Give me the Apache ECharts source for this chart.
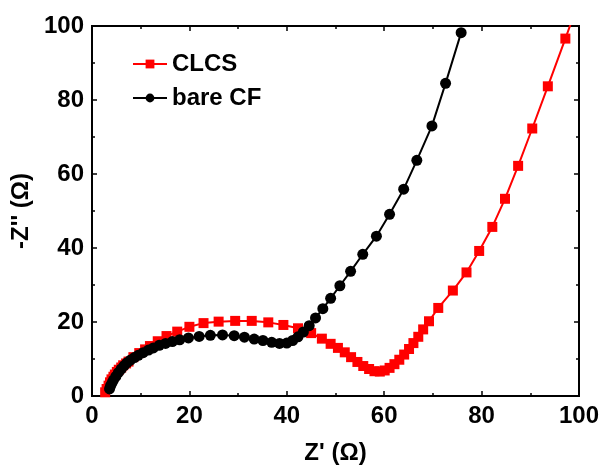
<!DOCTYPE html>
<html>
<head>
<meta charset="utf-8">
<script src="https://cdn.jsdelivr.net/npm/echarts@6/dist/echarts.min.js"></script>
<style>
  html, body { margin: 0; padding: 0; background: #fff; }
  #chart { width: 608px; height: 471px; }
</style>
</head>
<body>
<div id="chart"></div>
<script>
// Nyquist plot: Z' vs -Z'' (Ω)
const xTicks = [0, 20, 40, 60, 80, 100];
const yTicks = [0, 20, 40, 60, 80, 100];

const clcsZre = [2.7, 3.0, 3.4, 3.7, 4.0, 4.4, 4.7, 5.1, 5.5, 6.0, 6.4, 7.0, 7.5, 8.5, 9.7, 10.9, 11.9, 13.5, 15.3, 17.5, 20.0, 22.9, 26.0, 29.4, 32.8, 36.2, 39.3, 42.3, 45.0, 47.2, 49.0, 50.5, 51.9, 53.2, 54.5, 55.7, 56.9, 58.0, 59.1, 60.1, 61.1, 62.1, 63.1, 64.1, 65.1, 66.0, 67.0, 68.0, 69.2, 71.1, 74.1, 76.9, 79.5, 82.2, 84.8, 87.5, 90.4, 93.6, 97.2, 100.9];
const clcsZim = [1.0, 1.9, 2.8, 3.7, 4.5, 5.2, 5.8, 6.5, 7.1, 7.7, 8.3, 8.8, 9.3, 10.5, 11.6, 12.6, 13.5, 14.8, 16.2, 17.4, 18.7, 19.7, 20.1, 20.3, 20.3, 19.9, 19.2, 18.3, 17.0, 15.5, 14.1, 13.0, 11.8, 10.5, 9.2, 8.1, 7.3, 6.7, 6.6, 6.9, 7.6, 8.6, 9.8, 11.2, 12.7, 14.3, 16.0, 18.0, 20.2, 23.8, 28.5, 33.4, 39.2, 45.7, 53.3, 62.2, 72.3, 83.7, 96.6, 110.0];

const bareZre = [3.6, 3.8, 4.1, 4.4, 4.9, 5.4, 6.0, 6.6, 7.2, 7.9, 8.7, 9.5, 10.5, 11.6, 12.6, 13.8, 15.1, 16.5, 18.0, 19.8, 22.0, 24.3, 26.8, 29.2, 31.3, 33.3, 35.1, 36.9, 38.5, 40.0, 41.2, 42.3, 43.4, 44.6, 45.9, 47.4, 49.0, 50.9, 53.1, 55.6, 58.4, 61.1, 64.0, 66.7, 69.8, 72.6, 75.8];
const bareZim = [1.9, 2.7, 3.5, 4.3, 5.3, 6.3, 7.3, 8.2, 9.0, 9.7, 10.4, 11.0, 11.7, 12.4, 13.0, 13.7, 14.2, 14.7, 15.2, 15.7, 16.1, 16.4, 16.5, 16.3, 15.9, 15.4, 15.0, 14.5, 14.2, 14.3, 15.0, 16.0, 17.3, 19.0, 21.1, 23.6, 26.4, 29.8, 33.7, 38.3, 43.2, 49.1, 55.9, 63.7, 73.0, 84.5, 98.2];

const pair = (xs, ys) => xs.map((x, i) => [x, ys[i]]);

const FONT = 'Arial, "Liberation Sans", sans-serif';

function valueAxis(extra) {
  return Object.assign({
    type: 'value', min: 0, max: 100, interval: 20,
    axisLine: { show: true, onZero: false, lineStyle: { color: '#000', width: 2 } },
    axisTick: { show: true, inside: true, length: 5, lineStyle: { color: '#000', width: 1.5 } },
    minorTick: { show: true, splitNumber: 2, length: 3, lineStyle: { color: '#000', width: 1.5 } },
    splitLine: { show: false },
    minorSplitLine: { show: false }
  }, extra);
}

const chart = echarts.init(document.getElementById('chart'), null, { renderer: 'canvas' });
chart.setOption({
  animation: false,
  backgroundColor: '#fff',
  grid: {
    left: 92, right: 29, top: 26, bottom: 75, containLabel: false,
    show: true, borderColor: '#000', borderWidth: 2, backgroundColor: 'transparent'
  },
  legend: {
    orient: 'vertical', left: 127, top: 47,
    itemWidth: 34, itemHeight: 11, itemGap: 10,
    textStyle: { fontFamily: FONT, fontWeight: 'bold', fontSize: 24, color: '#000' },
    data: ['CLCS', 'bare CF']
  },
  xAxis: [
    valueAxis({
      position: 'bottom',
      name: "Z' (Ω)", nameLocation: 'middle', nameGap: 45,
      nameTextStyle: { fontFamily: FONT, fontWeight: 'bold', fontSize: 24, color: '#000' },
      axisLabel: {
        fontFamily: FONT, fontWeight: 'bold', fontSize: 24, color: '#000', margin: 8,
        formatter: v => (xTicks.includes(v) ? String(v) : '')
      }
    }),
    valueAxis({ position: 'top', axisLabel: { show: false } })
  ],
  yAxis: [
    valueAxis({
      position: 'left',
      name: "-Z'' (Ω)", nameLocation: 'middle', nameGap: 58,
      nameTextStyle: { fontFamily: FONT, fontWeight: 'bold', fontSize: 24, color: '#000' },
      axisLabel: {
        fontFamily: FONT, fontWeight: 'bold', fontSize: 24, color: '#000', margin: 8,
        formatter: v => (yTicks.includes(v) ? String(v) : '')
      }
    }),
    valueAxis({ position: 'right', axisLabel: { show: false } })
  ],
  series: [
    {
      name: 'CLCS', type: 'line', data: pair(clcsZre, clcsZim),
      symbol: 'rect', symbolSize: 10, clip: true,
      lineStyle: { color: '#ff0000', width: 2 },
      itemStyle: { color: '#ff0000' }
    },
    {
      name: 'bare CF', type: 'line', data: pair(bareZre, bareZim),
      symbol: 'circle', symbolSize: 11, clip: true,
      lineStyle: { color: '#000', width: 2 },
      itemStyle: { color: '#000' }
    }
  ]
});
</script>
</body>
</html>
